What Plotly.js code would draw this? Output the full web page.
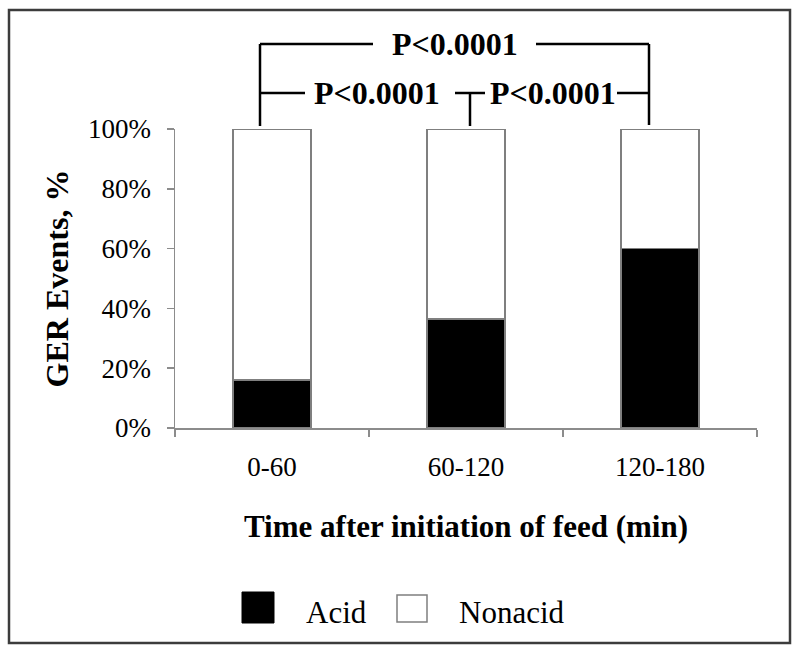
<!DOCTYPE html>
<html>
<head>
<meta charset="utf-8">
<script src="https://cdn.plot.ly/plotly-3.0.1.min.js"></script>
<style>html,body{margin:0;padding:0;background:#fff;}#chart{width:800px;height:654px;}</style>
</head>
<body>
<div id="chart"></div>
<script>
// ---- data ----
const categories = ["0-60", "60-120", "120-180"];
const acidPct = [16, 36.5, 60];
const nonacidPct = [84, 63.5, 40];
const seriesNames = ["Acid", "Nonacid"];
const pLabels = ["P<0.0001", "P<0.0001", "P<0.0001"];
const yTickVals = [0, 20, 40, 60, 80, 100];
const yTickText = ["0%", "20%", "40%", "60%", "80%", "100%"];

// ---- layout helpers (pixel -> paper) ----
const L = 175, R = 757, T = 129, B = 428;
const W = R - L, H = B - T;
const xp = px => (px - L) / W;
const yp = py => (B - py) / H;
const FONT = "Liberation Serif";

const traces = [
  {type: "bar", name: seriesNames[0], x: categories, y: acidPct,
   marker: {color: "#000000", line: {color: "#7f7f7f", width: 1.5}}},
  {type: "bar", name: seriesNames[1], x: categories, y: nonacidPct,
   marker: {color: "#ffffff", line: {color: "#7f7f7f", width: 1.5}}}
];

const blk = {color: "#000", width: 2.5};
function seg(x0, y0, x1, y1, line) {
  return {type: "line", xref: "paper", yref: "paper", x0: xp(x0), y0: yp(y0), x1: xp(x1), y1: yp(y1), line: line || blk};
}
const shapes = [
  // outer frame
  {type: "rect", xref: "paper", yref: "paper", x0: xp(9), y0: yp(643), x1: xp(790), y1: yp(10),
   line: {color: "#3c3c3c", width: 2.5}},
  // top bracket (0-60 vs 120-180)
  seg(260, 44, 373, 44), seg(536, 44, 649, 44),
  seg(260, 44, 260, 126), seg(649, 44, 649, 125),
  // lower brackets
  seg(260, 93, 305, 93), seg(455, 93, 485, 93), seg(617, 93, 649, 93),
  seg(470, 93, 470, 126),
  // legend keys
  {type: "rect", xref: "paper", yref: "paper", x0: xp(242), y0: yp(623), x1: xp(274), y1: yp(592),
   fillcolor: "#000", line: {color: "#000", width: 1}},
  {type: "rect", xref: "paper", yref: "paper", x0: xp(397), y0: yp(622), x1: xp(427), y1: yp(595),
   fillcolor: "#fff", line: {color: "#7f7f7f", width: 1.5}}
];

const pFont = {family: FONT, size: 32, color: "#000"};
const legFont = {family: FONT, size: 31, color: "#000"};
const annotations = [
  {xref: "paper", yref: "paper", x: xp(455), y: yp(44), text: "<b>" + pLabels[0] + "</b>", showarrow: false, font: pFont, xanchor: "center", yanchor: "middle"},
  {xref: "paper", yref: "paper", x: xp(377), y: yp(93), text: "<b>" + pLabels[1] + "</b>", showarrow: false, font: pFont, xanchor: "center", yanchor: "middle"},
  {xref: "paper", yref: "paper", x: xp(553), y: yp(93), text: "<b>" + pLabels[2] + "</b>", showarrow: false, font: pFont, xanchor: "center", yanchor: "middle"},
  {xref: "paper", yref: "paper", x: xp(304), y: yp(612), text: seriesNames[0], showarrow: false, font: legFont, xanchor: "left", yanchor: "middle"},
  {xref: "paper", yref: "paper", x: xp(457), y: yp(612), text: seriesNames[1], showarrow: false, font: legFont, xanchor: "left", yanchor: "middle"}
];

const tickFont = {family: FONT, size: 27, color: "#000"};
const layout = {
  width: 800, height: 654,
  margin: {l: L, r: 800 - R, t: T, b: 654 - B, pad: 0},
  paper_bgcolor: "#fff", plot_bgcolor: "#fff",
  barmode: "stack", bargap: 0.6,
  showlegend: false,
  font: {family: FONT, color: "#000", size: 27},
  xaxis: {
    type: "category", showgrid: false, zeroline: false,
    showline: true, linecolor: "#8c8c8c", linewidth: 1.5,
    ticks: "outside", tickson: "boundaries", ticklen: 7, tickcolor: "#8c8c8c", tickwidth: 1.5,
    tickfont: tickFont, ticklabelstandoff: 14,
    title: {text: "<b>Time after initiation of feed (min)</b>", font: {family: FONT, size: 31, color: "#000"}, standoff: 34}
  },
  yaxis: {
    range: [0, 100], tickmode: "array", tickvals: yTickVals, ticktext: yTickText,
    showgrid: false, zeroline: false,
    showline: true, linecolor: "#8c8c8c", linewidth: 1.5,
    ticks: "outside", ticklen: 7, tickcolor: "#8c8c8c", tickwidth: 1.5,
    tickfont: tickFont, ticklabelstandoff: 10,
    title: {text: "<b>GER Events, %</b>", font: {family: FONT, size: 32, color: "#000"}, standoff: 10}
  },
  shapes: shapes,
  annotations: annotations
};

Plotly.newPlot("chart", traces, layout, {displayModeBar: false, staticPlot: true});
</script>
</body>
</html>
